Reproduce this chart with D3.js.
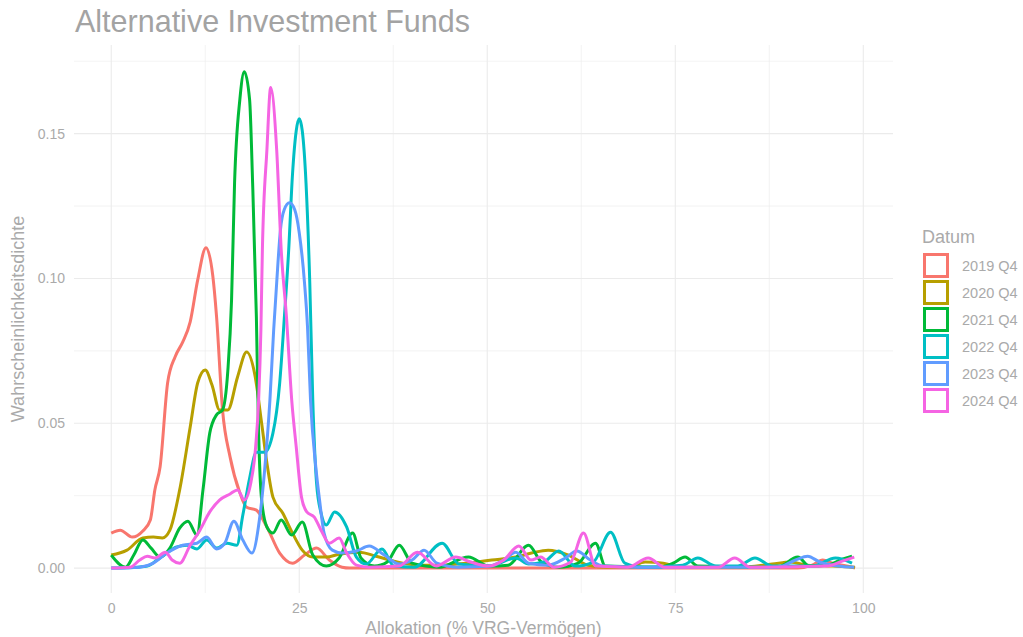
<!DOCTYPE html>
<html lang="de">
<head>
    <meta charset="UTF-8">
    <title>Alternative Investment Funds</title>
    <script src="https://cdn.jsdelivr.net/npm/d3@7/dist/d3.min.js"></script>
    <style type="text/css">
        body { margin: 0; background: #fff; }
        text { font-family: "Liberation Sans", Arial, sans-serif; }
        .grid line { stroke: #ebebeb; }
        .line { fill: none; stroke-width: 3; stroke-linejoin: round; }
    </style>
</head>
<body>
<div id="vis"></div>
<script type="text/javascript">

    // series labels (legend order)
    let seriesNames = ["2019 Q4", "2020 Q4", "2021 Q4", "2022 Q4", "2023 Q4", "2024 Q4"];

    // density curves: [allocation %, density]
    let dens2019 = [[0,0.0121],[1.2,0.0131],[2.8,0.0107],[4.2,0.0128],[5.2,0.0166],[5.8,0.027],[6.5,0.035],[7.5,0.064],
        [8.5,0.073],[9.5,0.078],[10.5,0.085],[11.5,0.0995],[12.6,0.1106],[13.5,0.101],[14.0,0.087],[14.8,0.0546],
        [15.8,0.0384],[17.1,0.026],[18.0,0.021],[19.3,0.020],[20.7,0.0142],[22.4,0.0052],[24.1,0.0017],[25.7,0.0045],
        [27.3,0.0069],[29,0.0028],[30.7,0.0003],[31.7,0],[50,0],[91.3,0],[93.2,0.001],[94.6,0.0028],[95.9,0.0017],
        [98.5,0.0003],[98.9,0]];

    let dens2020 = [[0,0.0045],[2.1,0.0062],[4.2,0.0104],[5.6,0.0107],[6.8,0.0104],[7.8,0.0131],[9.1,0.027],[10.5,0.0487],
        [11.5,0.064],[12.5,0.0684],[13.4,0.0632],[14.4,0.0546],[15.5,0.0546],[16.8,0.066],[18.0,0.0746],[19.1,0.0667],
        [20.0,0.050],[20.7,0.0363],[21.5,0.0245],[22.8,0.019],[24.1,0.0121],[25.4,0.0062],[26.8,0.0038],[28.6,0.0038],
        [30.3,0.0048],[33.0,0.0055],[35.2,0.0041],[37.6,0.0024],[40.9,0.001],[44.2,0.001],[47.2,0.0017],[50.6,0.0028],
        [53.8,0.0038],[55.9,0.0052],[58.1,0.0062],[60.8,0.0045],[63.4,0.001],[66.1,0.0003],[68.7,0.0003],[71.0,0.0021],
        [73.4,0.0017],[76.0,0.0003],[83.3,0.0003],[87.9,0.0014],[90.3,0.0021],[92.6,0.001],[95.9,0.0007],[98.9,0.0003]];

    let dens2021 = [[0,0.0045],[1.9,0.0003],[3.0,0.0045],[4.2,0.0097],[5.3,0.0069],[6.5,0.0038],[7.8,0.0069],[9.1,0.0138],
        [10.2,0.0162],[11.4,0.0114],[12.2,0.027],[13.1,0.0466],[14.0,0.0529],[14.8,0.0546],[15.5,0.068],[16.0,0.0926],
        [16.4,0.133],[17.1,0.1617],[17.7,0.1714],[18.4,0.1617],[18.8,0.133],[19.3,0.0867],[19.6,0.0466],[20.0,0.0235],
        [20.7,0.0142],[21.5,0.0121],[22.6,0.0166],[24.0,0.0114],[25.4,0.0159],[26.8,0.0045],[28.6,0.0007],[30.3,0.0035],
        [32.1,0.0121],[33.2,0.0035],[35.0,0.0007],[36.7,0.0021],[38.3,0.0079],[40.0,0.0017],[43.6,0.0003],[47.5,0.0038],
        [50.2,0.0007],[52.8,0.001],[55.5,0.0079],[57.2,0.0021],[59.5,0.0003],[62.1,0.0017],[64.4,0.0086],[65.7,0.0007],
        [72.7,0.0003],[74.7,0.0017],[76.3,0.0038],[78.0,0.0007],[88.6,0.0003],[91.3,0.0038],[92.8,0.0007],[95.2,0.001],
        [97.2,0.0031],[98.5,0.0041]];

    let dens2022 = [[0,0],[2.9,0.0002],[4.8,0.0007],[6.1,0.0028],[7.4,0.0052],[8.7,0.0073],[10.1,0.0079],[11.4,0.0066],
        [12.7,0.0097],[14.0,0.0069],[15.4,0.0086],[16.7,0.0079],[17.5,0.0183],[18.4,0.031],[19.3,0.040],[20.4,0.040],
        [21.5,0.0466],[22.4,0.0639],[23.0,0.0857],[23.6,0.110],[24.1,0.1358],[24.6,0.151],[25.0,0.1551],[25.4,0.151],
        [25.9,0.133],[26.4,0.0985],[26.8,0.058],[27.3,0.0294],[27.9,0.019],[28.6,0.0149],[29.7,0.0194],[31.3,0.0142],
        [32.6,0.0038],[33.9,0.0014],[36.0,0.0066],[37.6,0.0007],[40.3,0.0003],[44.0,0.0086],[46.2,0.0014],[50.2,0.0007],
        [53.8,0.0035],[55.5,0.0014],[57.5,0.0021],[59.5,0.0059],[61.7,0.0007],[64.1,0.0021],[66.4,0.0124],[68.3,0.0017],
        [70.7,0.0003],[76.0,0.001],[78.0,0.0035],[80.4,0.0007],[83.3,0.0007],[85.6,0.0035],[87.9,0.0007],[93.2,0.0007],
        [96.3,0.0035],[98.5,0.0017]];

    let dens2023 = [[0,0],[3.8,0.0003],[5.6,0.0017],[7.4,0.0052],[9.5,0.0079],[11.4,0.0086],[12.7,0.0107],[14.0,0.0066],
        [15.1,0.0086],[16.3,0.0162],[17.5,0.0097],[18.7,0.0052],[19.7,0.0166],[20.4,0.0339],[21.1,0.058],[21.6,0.0822],
        [22.0,0.0985],[22.5,0.1168],[23.0,0.1237],[23.7,0.1261],[24.4,0.1237],[25.0,0.1158],[25.7,0.0985],[26.1,0.0833],
        [26.5,0.058],[27.2,0.0349],[27.7,0.0235],[28.3,0.0121],[29.4,0.0062],[30.7,0.0052],[32.6,0.0059],[34.3,0.0076],
        [36.3,0.0045],[38.3,0.0014],[40.0,0.0028],[41.6,0.0062],[43.3,0.0017],[46.2,0.0003],[50.2,0.0007],[52.2,0.0028],
        [53.8,0.0055],[55.5,0.0017],[58.1,0.001],[60.4,0.0035],[61.9,0.0059],[63.7,0.0028],[65.4,0.0007],[70.1,0.0003],
        [88.6,0.0003],[91.0,0.0028],[92.6,0.0041],[94.2,0.0021],[96.6,0.0007],[98.8,0.0003]];

    let dens2024 = [[0,0],[2.5,0.0003],[3.8,0.0028],[4.8,0.0041],[5.8,0.0035],[7.2,0.0055],[8.1,0.0028],[9.1,0.0017],
        [10.5,0.0079],[11.8,0.0131],[13.1,0.0194],[14.4,0.0235],[15.8,0.0256],[16.8,0.027],[17.7,0.0235],[18.5,0.0287],
        [19.2,0.0418],[19.6,0.058],[19.9,0.0822],[20.1,0.110],[20.7,0.1444],[21.2,0.1659],[22.0,0.1444],[22.6,0.110],
        [23.3,0.0867],[24.0,0.058],[24.6,0.0418],[25.3,0.0245],[26.0,0.0194],[27.0,0.0176],[27.9,0.0131],[29.0,0.0086],
        [30.3,0.0104],[31.3,0.0052],[32.6,0.001],[34.3,0.0003],[38.3,0.0007],[40.7,0.0055],[43.2,0.0007],[45.8,0.0038],
        [47.8,0.0021],[50.2,0.0007],[52.2,0.0028],[54.2,0.0076],[55.8,0.0028],[57.1,0.0038],[58.9,0.0003],[61.1,0.0021],
        [62.8,0.0121],[64.4,0.0007],[68.7,0.0003],[71.4,0.0035],[73.6,0.0003],[80.7,0.0003],[82.9,0.0035],[85.0,0.0003],
        [95.2,0.0007],[97.2,0.0024],[98.8,0.0038]];

    let seriesData = [dens2019, dens2020, dens2021, dens2022, dens2023, dens2024];

    let xTicks = [0, 25, 50, 75, 100];
    let yTicks = [0, 0.05, 0.10, 0.15];
    let xMinor = [12.5, 37.5, 62.5, 87.5];
    let yMinor = [0.025, 0.075, 0.125, 0.175];

    // ggplot default hue palette
    let colors = ["#F8766D", "#B79F00", "#00BA38", "#00BFC4", "#619CFF", "#F564E3"];

    let width = 1023, height = 637;
    let margin = {top: 45, right: 130, bottom: 44, left: 74};
    let innerW = width - margin.left - margin.right;
    let innerH = height - margin.top - margin.bottom;

    let svg = d3.select("#vis").append("svg")
        .attr("width", width)
        .attr("height", height);

    let g = svg.append("g")
        .attr("transform", "translate(" + margin.left + "," + margin.top + ")");

    // expanded domains like ggplot (5% each side)
    let xScale = d3.scaleLinear().domain([-4.95, 103.95]).range([0, innerW]);
    let yScale = d3.scaleLinear().domain([-0.0086, 0.1806]).range([innerH, 0]);

    // grid
    let grid = g.append("g").attr("class", "grid");
    grid.selectAll(".vminor").data(xMinor).enter().append("line")
        .attr("x1", d => xScale(d)).attr("x2", d => xScale(d))
        .attr("y1", 0).attr("y2", innerH).attr("stroke-width", 0.6);
    grid.selectAll(".hminor").data(yMinor).enter().append("line")
        .attr("x1", 0).attr("x2", innerW)
        .attr("y1", d => yScale(d)).attr("y2", d => yScale(d)).attr("stroke-width", 0.6);
    grid.selectAll(".vmajor").data(xTicks).enter().append("line")
        .attr("x1", d => xScale(d)).attr("x2", d => xScale(d))
        .attr("y1", 0).attr("y2", innerH).attr("stroke-width", 1.1);
    grid.selectAll(".hmajor").data(yTicks).enter().append("line")
        .attr("x1", 0).attr("x2", innerW)
        .attr("y1", d => yScale(d)).attr("y2", d => yScale(d)).attr("stroke-width", 1.1);

    // axes (labels only, theme_minimal has no axis lines)
    let xAxis = g.append("g")
        .attr("transform", "translate(0," + innerH + ")")
        .call(d3.axisBottom(xScale).tickValues(xTicks).tickSize(0).tickPadding(10));
    let yAxis = g.append("g")
        .call(d3.axisLeft(yScale).tickValues(yTicks).tickSize(0).tickPadding(9).tickFormat(d3.format(".2f")));
    [xAxis, yAxis].forEach(function (a) {
        a.select(".domain").remove();
        a.selectAll("text").attr("fill", "#aaaaaa").style("font-size", "14px")
            .style("font-family", "'Liberation Sans', Arial, sans-serif");
    });

    // lines
    let line = d3.line()
        .x(d => xScale(d[0]))
        .y(d => yScale(d[1]))
        .curve(d3.curveMonotoneX);

    g.selectAll(".line").data(seriesData).enter().append("path")
        .attr("class", "line")
        .attr("stroke", (d, i) => colors[i])
        .attr("d", line);

    // titles
    svg.append("text")
        .attr("x", 75).attr("y", 32)
        .attr("fill", "#a3a3a3")
        .style("font-size", "30.5px")
        .text("Alternative Investment Funds");

    svg.append("text")
        .attr("x", margin.left + innerW / 2).attr("y", 634)
        .attr("text-anchor", "middle")
        .attr("fill", "#aaaaaa")
        .style("font-size", "17.5px")
        .text("Allokation (% VRG-Vermögen)");

    svg.append("text")
        .attr("transform", "translate(24," + (margin.top + innerH / 2) + ") rotate(-90)")
        .attr("text-anchor", "middle")
        .attr("fill", "#aaaaaa")
        .style("font-size", "18px")
        .text("Wahrscheinlichkeitsdichte");

    // legend
    let legend = svg.append("g").attr("transform", "translate(922,0)");
    legend.append("text")
        .attr("x", 0).attr("y", 243)
        .attr("fill", "#aaaaaa")
        .style("font-size", "18px")
        .text("Datum");

    let keys = legend.selectAll(".key").data(seriesNames).enter().append("g")
        .attr("transform", (d, i) => "translate(0," + (253 + i * 27) + ")");
    keys.append("rect")
        .attr("x", 2.5).attr("y", 1.5)
        .attr("width", 23).attr("height", 22)
        .attr("fill", "#fff")
        .attr("stroke", (d, i) => colors[i])
        .attr("stroke-width", 3);
    keys.append("text")
        .attr("x", 40).attr("y", 17.5)
        .attr("fill", "#aaaaaa")
        .style("font-size", "14.5px")
        .text(d => d);
</script>
</body>
</html>
